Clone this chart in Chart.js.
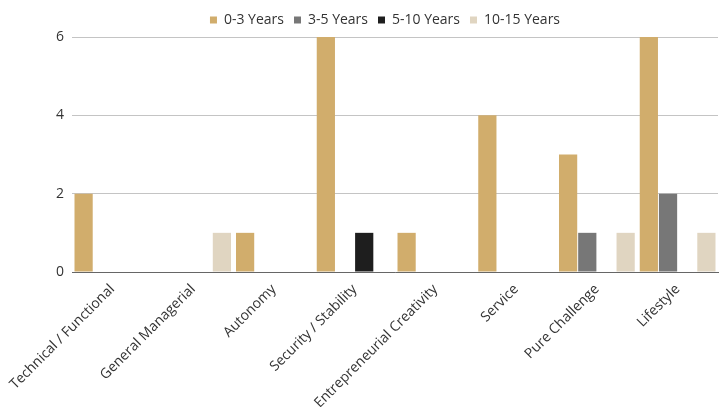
<!DOCTYPE html>
<html>
<head>
<meta charset="utf-8">
<script src="https://cdn.jsdelivr.net/npm/chart.js@4/dist/chart.umd.min.js"></script>
<style>
  html, body { margin: 0; padding: 0; background: #fff; }
  #wrap { width: 724px; height: 407px; }
</style>
</head>
<body>
<div id="wrap"><canvas id="c"></canvas></div>
<script>
const categories = [
  "Technical / Functional", "General Managerial", "Autonomy", "Security / Stability",
  "Entrepreneurial Creativity", "Service", "Pure Challenge", "Lifestyle"
];
const seriesNames = ["0-3 Years", "3-5 Years", "5-10 Years", "10-15 Years"];
const years0to3   = [2, 0, 1, 6, 1, 4, 3, 6];
const years3to5   = [0, 0, 0, 0, 0, 0, 1, 2];
const years5to10  = [0, 0, 0, 1, 0, 0, 0, 0];
const years10to15 = [0, 1, 0, 0, 0, 0, 1, 1];
const yTicks = [0, 2, 4, 6];

const colors = ["#D1AD6C", "#777777", "#1E1E1E", "#E0D5C1"];
const values = [years0to3, years3to5, years5to10, years10to15];

// Center the legend over the plot area rather than the whole canvas.
const legendOverPlot = {
  id: "legendOverPlot",
  afterLayout(chart) {
    const lg = chart.legend, ca = chart.chartArea;
    if (!lg) return;
    const shift = (ca.left + ca.right) / 2 - (lg.left + lg.right) / 2 - 10;
    lg.left += shift;
    lg.right += shift;
  }
};

new Chart(document.getElementById("c"), {
  type: "bar",
  data: {
    labels: categories,
    datasets: seriesNames.map((name, i) => ({
      label: name,
      data: values[i],
      backgroundColor: colors[i],
      borderWidth: 0,
      barPercentage: 0.95,
      categoryPercentage: 0.95
    }))
  },
  options: {
    responsive: true,
    maintainAspectRatio: false,
    animation: false,
    layout: { padding: { top: 3, right: 6, left: 0, bottom: 0 } },
    plugins: {
      legend: {
        position: "top",
        labels: {
          boxWidth: 7, boxHeight: 7,
          color: "#333",
          font: { family: "Open Sans", size: 14 },
          padding: 10
        }
      },
      tooltip: { enabled: false }
    },
    scales: {
      x: {
        grid: { display: false },
        border: { display: true, color: "#666", width: 1 },
        afterFit: scale => {
          scale.height = 135;
          scale.paddingLeft = 0;
          scale.paddingRight = 0;
        },
        ticks: {
          color: "#333",
          font: { family: "Open Sans", size: 14 },
          maxRotation: 45, minRotation: 45,
          autoSkip: false,
          padding: 1
        }
      },
      y: {
        min: 0, max: 6,
        afterBuildTicks: axis => { axis.ticks = yTicks.map(v => ({ value: v })); },
        afterFit: scale => { scale.width = 72; },
        grid: { color: "#c4c4c4", lineWidth: 1, drawTicks: false },
        border: { display: false },
        ticks: {
          color: "#333",
          font: { family: "Open Sans", size: 14 },
          padding: 8
        }
      }
    }
  },
  plugins: [legendOverPlot]
});
</script>
</body>
</html>
